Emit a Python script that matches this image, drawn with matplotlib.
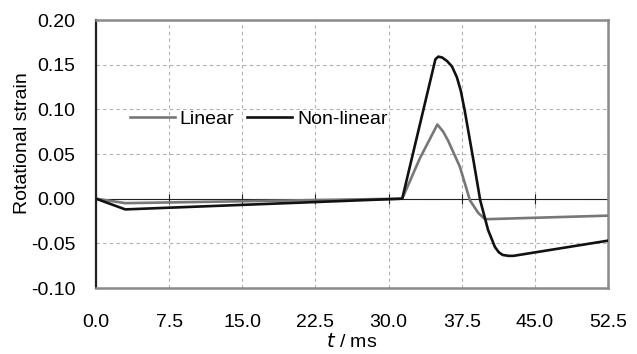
import matplotlib.pyplot as plt
from matplotlib.patches import Rectangle

# time (ms) and rotational strain
t_lin = [0, 3.0, 31.4, 33.2, 35.0, 35.6, 36.1, 37.3, 38.35, 39.2, 39.9, 52.5]
strain_lin = [0, -0.005, 0, 0.045, 0.083, 0.075, 0.065, 0.036, -0.002, -0.016, -0.023, -0.019]

t_nl = [0, 3.0, 31.4, 34.8, 35.1, 35.5, 36.0, 36.5, 37.0, 37.4, 37.8, 38.7, 39.4,
        40.2, 40.9, 41.3, 41.7, 42.3, 42.8, 52.5]
strain_nl = [0, -0.012, 0, 0.156, 0.159, 0.158, 0.154, 0.148, 0.136, 0.121, 0.099, 0.043, -0.002,
             -0.035, -0.054, -0.060, -0.063, -0.064, -0.064, -0.047]

xticks = [0.0, 7.5, 15.0, 22.5, 30.0, 37.5, 45.0, 52.5]
yticks = [-0.10, -0.05, 0.00, 0.05, 0.10, 0.15, 0.20]

plt.rcParams['font.family'] = ['Liberation Sans', 'DejaVu Sans']
plt.rcParams['font.size'] = 14

fig = plt.figure(figsize=(6.37, 3.54), dpi=100)
ax = fig.add_axes([0.1507, 0.1864, 0.8038, 0.7571])

ax.set_xlim(0, 52.5)
ax.set_ylim(-0.1, 0.2)
ax.set_xticks(xticks)
ax.set_yticks(yticks)
ax.set_xticklabels(['%.1f' % v for v in xticks])
ax.set_yticklabels(['%.2f' % v for v in yticks])
ax.tick_params(length=0, labelsize=14)
ax.tick_params(axis='x', pad=19)
ax.tick_params(axis='y', pad=15)

ax.grid(True, color='#b0b0b0', linestyle=(0, (3, 3)), linewidth=0.8, zorder=0)

# white box behind the legend, hides the grid there
ax.add_patch(Rectangle((0.047, 0.485), 0.551, 0.302, transform=ax.transAxes,
                       facecolor='white', edgecolor='none', zorder=1))

ax.axhline(0, color='#222222', linewidth=0.8, zorder=2)
ax.plot(xticks, [0] * len(xticks), linestyle='none', marker='|', markersize=7,
        markeredgewidth=0.8, color='#222222', zorder=2)

ax.plot(t_lin, strain_lin, color='#777777', linewidth=1.9, label='Linear', zorder=3)
ax.plot(t_nl, strain_nl, color='#111111', linewidth=1.9, label='Non-linear', zorder=4)

for side in ['top', 'right', 'bottom']:
    ax.spines[side].set_color('#8a8a8a')
    ax.spines[side].set_linewidth(1.8)
ax.spines['left'].set_color('#222222')
ax.spines['left'].set_linewidth(1.6)

ax.legend(loc='center left', bbox_to_anchor=(0.066, 0.63), ncol=2, frameon=False,
          borderaxespad=0, borderpad=0, handlelength=2.3, handletextpad=0.26,
          columnspacing=0.67, fontsize=14)

ax.set_ylabel('Rotational strain', fontsize=14)
ax.yaxis.set_label_coords(-0.126, 0.54)
ax.set_xlabel('$t$ / ms', fontsize=14, labelpad=1)

fig.savefig('out.png', dpi=100)
